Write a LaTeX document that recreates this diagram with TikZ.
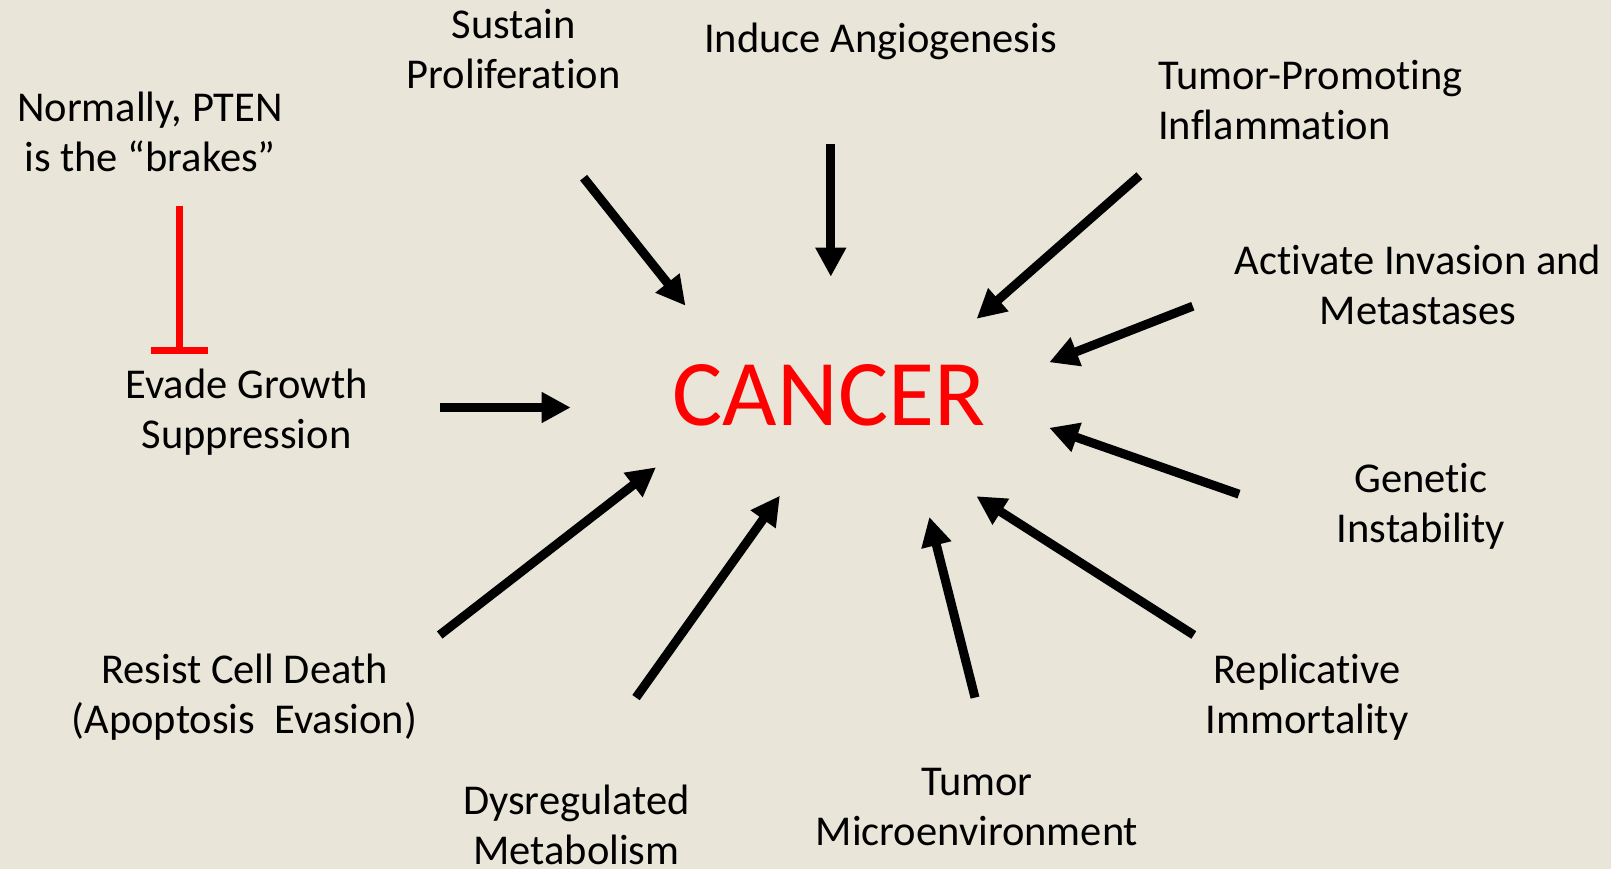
\documentclass[tikz,border=0pt]{standalone}
\usepackage{fontspec}
\setmainfont[Ligatures=NoCommon]{Carlito}
\usetikzlibrary{arrows.meta}
\definecolor{bg}{RGB}{233,229,216}
\definecolor{pred}{RGB}{255,0,0}
\begin{document}
\begin{tikzpicture}[x=1pt,y=-1pt,
  lbl/.style={font=\fontsize{42.5}{50}\selectfont, align=center, inner sep=0pt, text=black},
  arr/.style={draw=black, line width=9pt, -{Triangle[length=29pt,width=29pt]}},
  brake/.style={draw=pred, line width=7pt, -{Bar[width=57pt]}}]
\fill[bg] (0,0) rectangle (1611,869);
\useasboundingbox (0,0) rectangle (1611,869);

\node[font=\fontsize{94}{100}\selectfont, text=pred, inner sep=0pt] (cancer) at (829,395.5) {CANCER};

\node[lbl] (sustain) at (513.7,49.4) {Sustain\\Proliferation};
\node[lbl] (induce) at (880.5,41) {Induce Angiogenesis};
\node[lbl, anchor=west, align=left] (tpi) at (1158,100.2) {Tumor-Promoting\\Inflammation};
\node[lbl] (activate) at (1417.8,284.5) {Activate Invasion and\\Metastases};
\node[lbl] (genetic) at (1421,506.4) {Genetic\\Instability};
\node[lbl] (replic) at (1306.9,697) {Replicative\\Immortality};
\node[lbl] (micro) at (977,807.5) {Tumor\\Microenvironment};
\node[lbl] (dysreg) at (576.4,825) {Dysregulated\\Metabolism};
\node[lbl] (resist) at (244.5,697.5) {Resist Cell Death\\(Apoptosis~ Evasion)};
\node[lbl] (evade) at (246.6,412) {Evade Growth\\Suppression};
\node[lbl] (pten) at (150,132) {Normally, PTEN\\is the “brakes”};

% arrow end points
\coordinate (s1) at (583.6,177.7); \coordinate (e1) at (685.5,305.7);
\coordinate (s2) at (830.8,144); \coordinate (e2) at (830.8,276.7);
\coordinate (s3) at (1139.4,175.7); \coordinate (e3) at (976.6,318.8);
\coordinate (s4) at (1192.8,306.2); \coordinate (e4) at (1049.2,362.3);
\coordinate (s5) at (440,407.5); \coordinate (e5) at (570.7,407.5);
\coordinate (s6) at (1239,494.2); \coordinate (e6) at (1049.2,427.8);
\coordinate (s7) at (439.7,635); \coordinate (e7) at (656,467.3);
\coordinate (s8) at (636,697.6); \coordinate (e8) at (779.9,495.7);
\coordinate (s9) at (975,697.6); \coordinate (e9) at (929.3,516.9);
\coordinate (s10) at (1193.8,635); \coordinate (e10) at (976.4,496.2);
\coordinate (bs) at (179.8,205.7); \coordinate (be) at (179.8,354.2);

\foreach \i in {1,...,10} {\draw[arr] (s\i) -- (e\i);}
\draw[brake] (bs) -- (be);
\end{tikzpicture}
\end{document}
